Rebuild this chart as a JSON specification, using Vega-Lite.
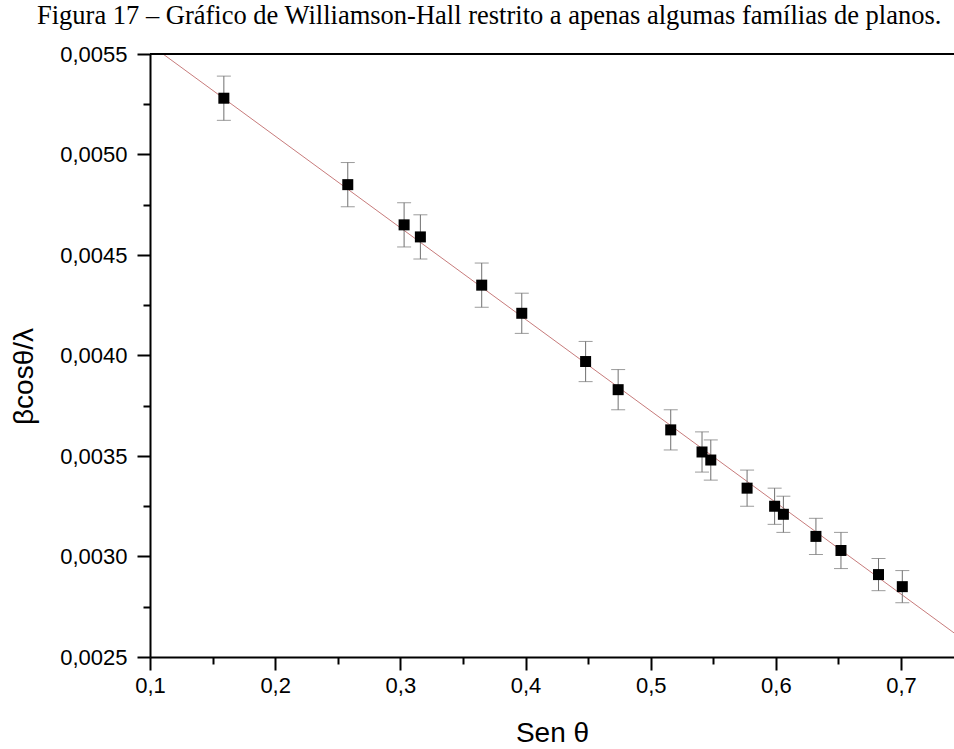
{
  "$schema": "https://vega.github.io/schema/vega-lite/v6.json",
  "autosize": "none",
  "width": 804,
  "height": 603,
  "padding": {"left": 150, "top": 54, "right": 0, "bottom": 92},
  "background": "white",
  "title": {
    "text": "Figura 17 – Gráfico de Williamson-Hall restrito a apenas algumas famílias de planos.",
    "font": "Liberation Serif",
    "fontSize": 26.5,
    "fontWeight": "normal",
    "color": "black",
    "anchor": "start",
    "frame": "group",
    "dx": -113,
    "dy": 23,
    "baseline": "alphabetic",
    "offset": 16
  },
  "config": {
    "view": {"stroke": null},
    "axis": {
      "grid": false,
      "domainColor": "black",
      "domainWidth": 2,
      "tickColor": "black",
      "tickWidth": 2,
      "labelFont": "Liberation Sans",
      "labelFontSize": 22,
      "labelColor": "black",
      "titleFont": "Liberation Sans",
      "titleFontSize": 28,
      "titleFontWeight": "normal",
      "titleColor": "black"
    }
  },
  "datasets": {
    "pts": [
      {"x": 0.159, "y": 0.00528, "err": 0.00011},
      {"x": 0.258, "y": 0.00485, "err": 0.00011},
      {"x": 0.303, "y": 0.00465, "err": 0.00011},
      {"x": 0.316, "y": 0.00459, "err": 0.00011},
      {"x": 0.365, "y": 0.00435, "err": 0.00011},
      {"x": 0.397, "y": 0.00421, "err": 0.0001},
      {"x": 0.448, "y": 0.00397, "err": 0.0001},
      {"x": 0.474, "y": 0.00383, "err": 0.0001},
      {"x": 0.516, "y": 0.00363, "err": 0.0001},
      {"x": 0.541, "y": 0.00352, "err": 0.0001},
      {"x": 0.548, "y": 0.00348, "err": 0.0001},
      {"x": 0.577, "y": 0.00334, "err": 0.00009},
      {"x": 0.599, "y": 0.00325, "err": 0.00009},
      {"x": 0.606, "y": 0.00321, "err": 0.00009},
      {"x": 0.632, "y": 0.0031, "err": 0.00009},
      {"x": 0.652, "y": 0.00303, "err": 0.00009},
      {"x": 0.682, "y": 0.00291, "err": 0.00008},
      {"x": 0.701, "y": 0.00285, "err": 0.00008}
    ],
    "fit": [
      {"x": 0.1104, "y": 0.0055},
      {"x": 0.7423, "y": 0.00262}
    ]
  },
  "layer": [
    {
      "data": {"name": "fit"},
      "mark": {"type": "line", "color": "#c77b7b", "strokeWidth": 1, "clip": true},
      "encoding": {
        "x": {
          "field": "x", "type": "quantitative", "title": "Sen θ",
          "scale": {"domain": [0.1, 0.7423], "nice": false, "zero": false},
          "axis": {
            "values": [0.1, 0.15, 0.2, 0.25, 0.3, 0.35, 0.4, 0.45, 0.5, 0.55, 0.6, 0.65, 0.7],
            "labelExpr": "abs(datum.value*10 - round(datum.value*10)) < 0.001 ? replace(format(datum.value, '.1f'), '.', ',') : ''",
            "tickSize": {"condition": {"test": "abs(datum.value*10 - round(datum.value*10)) < 0.001", "value": 13}, "value": 7},
            "labelPadding": 5,
            "labelFlush": false,
            "titleY": 84,
            "titleBaseline": "alphabetic"
          }
        },
        "y": {
          "field": "y", "type": "quantitative", "title": "βcosθ/λ",
          "scale": {"domain": [0.0025, 0.0055], "nice": false, "zero": false},
          "axis": {
            "values": [0.0025, 0.00275, 0.003, 0.00325, 0.0035, 0.00375, 0.004, 0.00425, 0.0045, 0.00475, 0.005, 0.00525, 0.0055],
            "labelExpr": "abs(datum.value*2000 - round(datum.value*2000)) < 0.01 ? replace(format(datum.value, '.4f'), '.', ',') : ''",
            "tickSize": {"condition": {"test": "abs(datum.value*2000 - round(datum.value*2000)) < 0.01", "value": 13}, "value": 7},
            "labelPadding": 10,
            "labelFlush": false,
            "titleX": -126,
            "titleY": 322,
            "titleAngle": -90,
            "titleAlign": "center",
            "titleBaseline": "middle"
          }
        }
      }
    },
    {
      "data": {"name": "pts"},
      "mark": {"type": "errorbar", "ticks": {"size": 14, "color": "#707070", "strokeWidth": 1}, "rule": {"color": "#707070", "strokeWidth": 1}},
      "encoding": {
        "x": {"field": "x", "type": "quantitative", "title": "Sen θ"},
        "y": {"field": "y", "type": "quantitative", "title": "βcosθ/λ"},
        "yError": {"field": "err"}
      }
    },
    {
      "data": {"name": "pts"},
      "mark": {"type": "square", "size": 121, "color": "black", "opacity": 1, "filled": true},
      "encoding": {
        "x": {"field": "x", "type": "quantitative", "title": "Sen θ"},
        "y": {"field": "y", "type": "quantitative", "title": "βcosθ/λ"}
      }
    },
    {
      "data": {"values": [{"top": 0.0055}]},
      "mark": {"type": "rule", "color": "black", "strokeWidth": 2},
      "encoding": {
        "y": {"field": "top", "type": "quantitative", "title": "βcosθ/λ"}
      }
    }
  ]
}
